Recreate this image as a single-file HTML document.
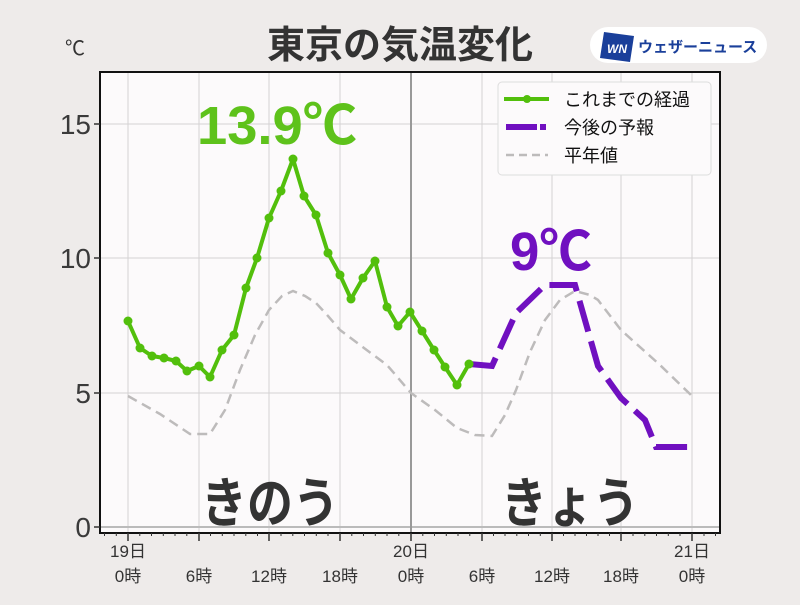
<!DOCTYPE html>
<html><head><meta charset="utf-8"><style>
body{margin:0;background:#eeebea;}
svg text{font-family:"Liberation Sans","Noto Sans CJK JP",sans-serif;}
</style></head><body>
<svg width="800" height="600" xmlns="http://www.w3.org/2000/svg">
<rect width="800" height="600" fill="#eeebea"/>
<rect x="100" y="72" width="620" height="461" fill="#fcfafb"/>
<g stroke="#d4d2d3" stroke-width="1">
<line x1="128" y1="72" x2="128" y2="533"/><line x1="199" y1="72" x2="199" y2="533"/>
<line x1="269" y1="72" x2="269" y2="533"/><line x1="340" y1="72" x2="340" y2="533"/>
<line x1="482" y1="72" x2="482" y2="533"/><line x1="552" y1="72" x2="552" y2="533"/>
<line x1="621" y1="72" x2="621" y2="533"/><line x1="692" y1="72" x2="692" y2="533"/>
<line x1="100" y1="124" x2="720" y2="124"/><line x1="100" y1="258" x2="720" y2="258"/>
<line x1="100" y1="393" x2="720" y2="393"/>
</g>
<line x1="100" y1="527" x2="720" y2="527" stroke="#bbb" stroke-width="2"/>
<line x1="411" y1="72" x2="411" y2="533" stroke="#999" stroke-width="2"/>
<text x="277" y="144" font-size="54" font-weight="bold" fill="#5ec21b" text-anchor="middle" textLength="160" lengthAdjust="spacingAndGlyphs">13.9℃</text>
<text x="551" y="270" font-size="54" font-weight="bold" fill="#7010c0" text-anchor="middle" textLength="82" lengthAdjust="spacingAndGlyphs">9℃</text>
<text x="270" y="522" font-size="54" font-weight="bold" fill="#333" text-anchor="middle" textLength="138" lengthAdjust="spacingAndGlyphs">きのう</text>
<text x="570" y="522" font-size="54" font-weight="bold" fill="#333" text-anchor="middle" textLength="138" lengthAdjust="spacingAndGlyphs">きょう</text>
<polyline fill="none" stroke="#bdbbbb" stroke-width="2.5" stroke-dasharray="10,6" points="128,396 160,414 190,434 210,434 225,410 240,370 255,335 269,310 282,296 293,291 305,296 316,303 328,316 340,330 364,348 387,365 411,393 435,410 457,428 475,435 492,436 505,415 516,390 530,352 545,320 560,300 575,291 590,295 598,300 621,330 660,365 692,396"/>
<polyline fill="none" stroke="#7010c0" stroke-width="6" stroke-dasharray="32,10" points="469,364 492,366 516,313 545,285 575,285 598,366 621,398 645,420 656,447 692,447"/>
<polyline fill="none" stroke="#52bf0c" stroke-width="4" stroke-linejoin="round" points="128,321 140,348 152,356 164,358 176,361 187,371 199,366 210,377 222,350 234,335 246,288 257,258 269,218 281,191 293,159 304,196 316,215 328,253 340,275 351,299 363,278 375,261 387,307 398,326 410,312 422,331 434,350 445,367 457,385 469,364"/>
<g fill="#52bf0c">
<circle cx="128" cy="321" r="4.5"/><circle cx="140" cy="348" r="4.5"/><circle cx="152" cy="356" r="4.5"/><circle cx="164" cy="358" r="4.5"/><circle cx="176" cy="361" r="4.5"/><circle cx="187" cy="371" r="4.5"/><circle cx="199" cy="366" r="4.5"/><circle cx="210" cy="377" r="4.5"/><circle cx="222" cy="350" r="4.5"/><circle cx="234" cy="335" r="4.5"/><circle cx="246" cy="288" r="4.5"/><circle cx="257" cy="258" r="4.5"/><circle cx="269" cy="218" r="4.5"/><circle cx="281" cy="191" r="4.5"/><circle cx="293" cy="159" r="4.5"/><circle cx="304" cy="196" r="4.5"/><circle cx="316" cy="215" r="4.5"/><circle cx="328" cy="253" r="4.5"/><circle cx="340" cy="275" r="4.5"/><circle cx="351" cy="299" r="4.5"/><circle cx="363" cy="278" r="4.5"/><circle cx="375" cy="261" r="4.5"/><circle cx="387" cy="307" r="4.5"/><circle cx="398" cy="326" r="4.5"/><circle cx="410" cy="312" r="4.5"/><circle cx="422" cy="331" r="4.5"/><circle cx="434" cy="350" r="4.5"/><circle cx="445" cy="367" r="4.5"/><circle cx="457" cy="385" r="4.5"/><circle cx="469" cy="364" r="4.5"/>
</g>
<rect x="498" y="82" width="213" height="93" rx="4" fill="#fcfafb" stroke="#ddd"/>
<line x1="504" y1="99" x2="549" y2="99" stroke="#52bf0c" stroke-width="4"/><circle cx="527" cy="99" r="4" fill="#52bf0c"/>
<line x1="506" y1="127" x2="537" y2="127" stroke="#7010c0" stroke-width="6"/><line x1="540" y1="127" x2="546" y2="127" stroke="#7010c0" stroke-width="6"/>
<line x1="506" y1="155" x2="548" y2="155" stroke="#bdbbbb" stroke-width="2.5" stroke-dasharray="8,5"/>
<g font-size="18" fill="#111"><text x="564" y="106">これまでの経過</text><text x="564" y="134">今後の予報</text><text x="564" y="162">平年値</text></g>
<rect x="100" y="72" width="620" height="461" fill="none" stroke="#111" stroke-width="2"/>
<g stroke="#333" stroke-width="1.5">
<line x1="94" y1="124" x2="100" y2="124"/><line x1="94" y1="258" x2="100" y2="258"/><line x1="94" y1="393" x2="100" y2="393"/><line x1="94" y1="527" x2="100" y2="527"/>
<line x1="128" y1="533" x2="128" y2="541"/><line x1="199" y1="533" x2="199" y2="541"/><line x1="269" y1="533" x2="269" y2="541"/><line x1="340" y1="533" x2="340" y2="541"/><line x1="411" y1="533" x2="411" y2="541"/><line x1="482" y1="533" x2="482" y2="541"/><line x1="552" y1="533" x2="552" y2="541"/><line x1="621" y1="533" x2="621" y2="541"/><line x1="692" y1="533" x2="692" y2="541"/>
</g>
<g stroke="#333" stroke-width="1" id="minor"></g>
<path stroke="#333" stroke-width="1" d="M104.5 533v3M116.3 533v3M139.8 533v3M151.5 533v3M163.3 533v3M175 533v3M186.8 533v3M210.5 533v3M222.3 533v3M234 533v3M245.8 533v3M257.5 533v3M281 533v3M292.8 533v3M304.5 533v3M316.3 533v3M328 533v3M351.8 533v3M363.5 533v3M375.3 533v3M387 533v3M398.8 533v3M422.8 533v3M434.5 533v3M446.3 533v3M458 533v3M469.8 533v3M493.5 533v3M505 533v3M516.8 533v3M528.5 533v3M540.3 533v3M563.5 533v3M575 533v3M586.5 533v3M598 533v3M609.5 533v3M633 533v3M644.8 533v3M656.5 533v3M668.3 533v3M680 533v3M704 533v3M715.5 533v3"/>
<g font-size="28" fill="#3a3a3a" text-anchor="end"><text x="91" y="134">15</text><text x="91" y="268">10</text><text x="91" y="403">5</text><text x="91" y="537">0</text></g>
<text x="65" y="55" font-size="20" fill="#333">℃</text>
<g font-size="17" fill="#333" text-anchor="middle">
<text x="128" y="557">19日</text><text x="411" y="557">20日</text><text x="692" y="557">21日</text>
<text x="128" y="582">0時</text><text x="199" y="582">6時</text><text x="269" y="582">12時</text><text x="340" y="582">18時</text><text x="411" y="582">0時</text><text x="482" y="582">6時</text><text x="552" y="582">12時</text><text x="621" y="582">18時</text><text x="692" y="582">0時</text>
</g>
<text x="400" y="58" font-size="38" font-weight="bold" fill="#333" text-anchor="middle">東京の気温変化</text>
<rect x="590" y="27" width="177" height="36" rx="18" fill="#fff"/>
<polygon points="604,32 634,36 630,62 600,58" fill="#1a3f9a"/>
<text x="617" y="53" font-size="12" font-weight="bold" fill="#fff" text-anchor="middle" font-style="italic">WN</text>
<text x="638" y="52" font-size="15" font-weight="bold" fill="#1a3f9a">ウェザーニュース</text>
</svg>
</body></html>
